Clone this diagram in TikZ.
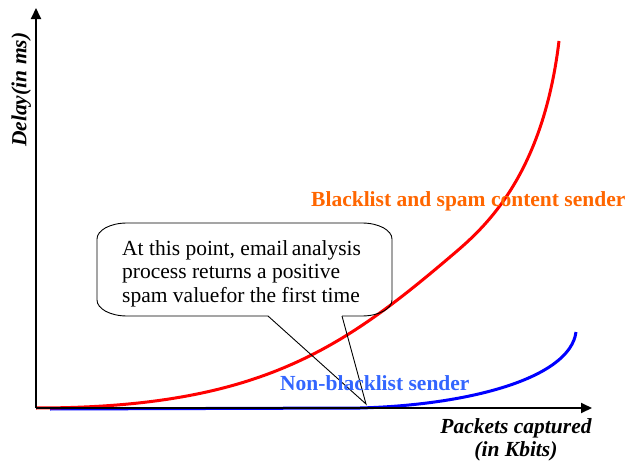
\documentclass[tikz,border=0pt]{standalone}
\usepackage{fontspec}
\setmainfont{Liberation Serif}
\usetikzlibrary{arrows.meta}
\definecolor{senderorange}{RGB}{255,102,0}
\definecolor{senderblue}{RGB}{51,102,255}
\tikzset{
  axis/.style={line width=2pt, -{Triangle[length=11pt,width=10pt]}},
  redcurve/.style={red, line width=3pt},
  bluecurve/.style={blue, line width=3pt},
  callout/.style={black, line width=0.9pt},
  lbl/.style={inner sep=0pt, font=\fontsize{21.5}{23.5}\selectfont},
  boldlbl/.style={lbl, font=\fontsize{21.5}{23.5}\selectfont\bfseries},
}
\begin{document}
\begin{tikzpicture}[x=1pt, y=-1pt]
\useasboundingbox (0,0) rectangle (625,463);

% delay of a sender that is not blacklisted
\coordinate (b0) at (50,409);
\coordinate (b1) at (360,408);
\coordinate (b2) at (576,332);
\draw[bluecurve] (b0) -- (b1) .. controls (470,405) and (570,378) .. (b2);

% delay of a blacklisted sender with spam content
\coordinate (r0) at (36,408);
\coordinate (r1) at (450,257);
\coordinate (r2) at (559,41);
\draw[redcurve] (r0) .. controls (256,408) and (340,350.5) .. (r1)
  .. controls (480,231.5) and (542.2,181) .. (r2);

% axes
\coordinate (O) at (36,408);
\coordinate (ytop) at (36,8);
\coordinate (xend) at (592,408);
\draw[axis] (O) -- (ytop);
\draw[axis] (O) -- (xend);

% callout with elliptical corners and a wedge pointing at the curves
\coordinate (wl) at (268,316);
\coordinate (wr) at (342,316);
\coordinate (tip) at (366,404);
\draw[callout] (wl) -- (127,316) arc[start angle=90, end angle=180, x radius=30, y radius=16]
  -- (97,239) arc[start angle=180, end angle=270, x radius=30, y radius=16]
  -- (362,223) arc[start angle=270, end angle=360, x radius=30, y radius=16]
  -- (392,300) arc[start angle=0, end angle=90, x radius=30, y radius=16]
  -- (wr);
\draw[callout] (wl) -- (tip) -- (wr);
\node[lbl, anchor=north west, align=left] (note) at (122,240)
  {At this point, email\,analysis\\process returns a positive\\spam valuefor the first time};

% labels
\node[boldlbl, anchor=base west, text=senderorange] (spam) at (311,206)
  {Blacklist and spam content sender};
\node[boldlbl, anchor=base west, text=senderblue] (clean) at (280,390)
  {Non-blacklist sender};
\node[boldlbl, anchor=north, align=center, font=\fontsize{21.5}{23.5}\selectfont\bfseries\itshape] (xlab) at (516,418)
  {Packets captured\\(in Kbits)};
\node[boldlbl, anchor=base west, rotate=90, font=\fontsize{21.5}{23.5}\selectfont\bfseries\itshape] (ylab) at (26.5,147)
  {Delay(in ms)};
\end{tikzpicture}
\end{document}
